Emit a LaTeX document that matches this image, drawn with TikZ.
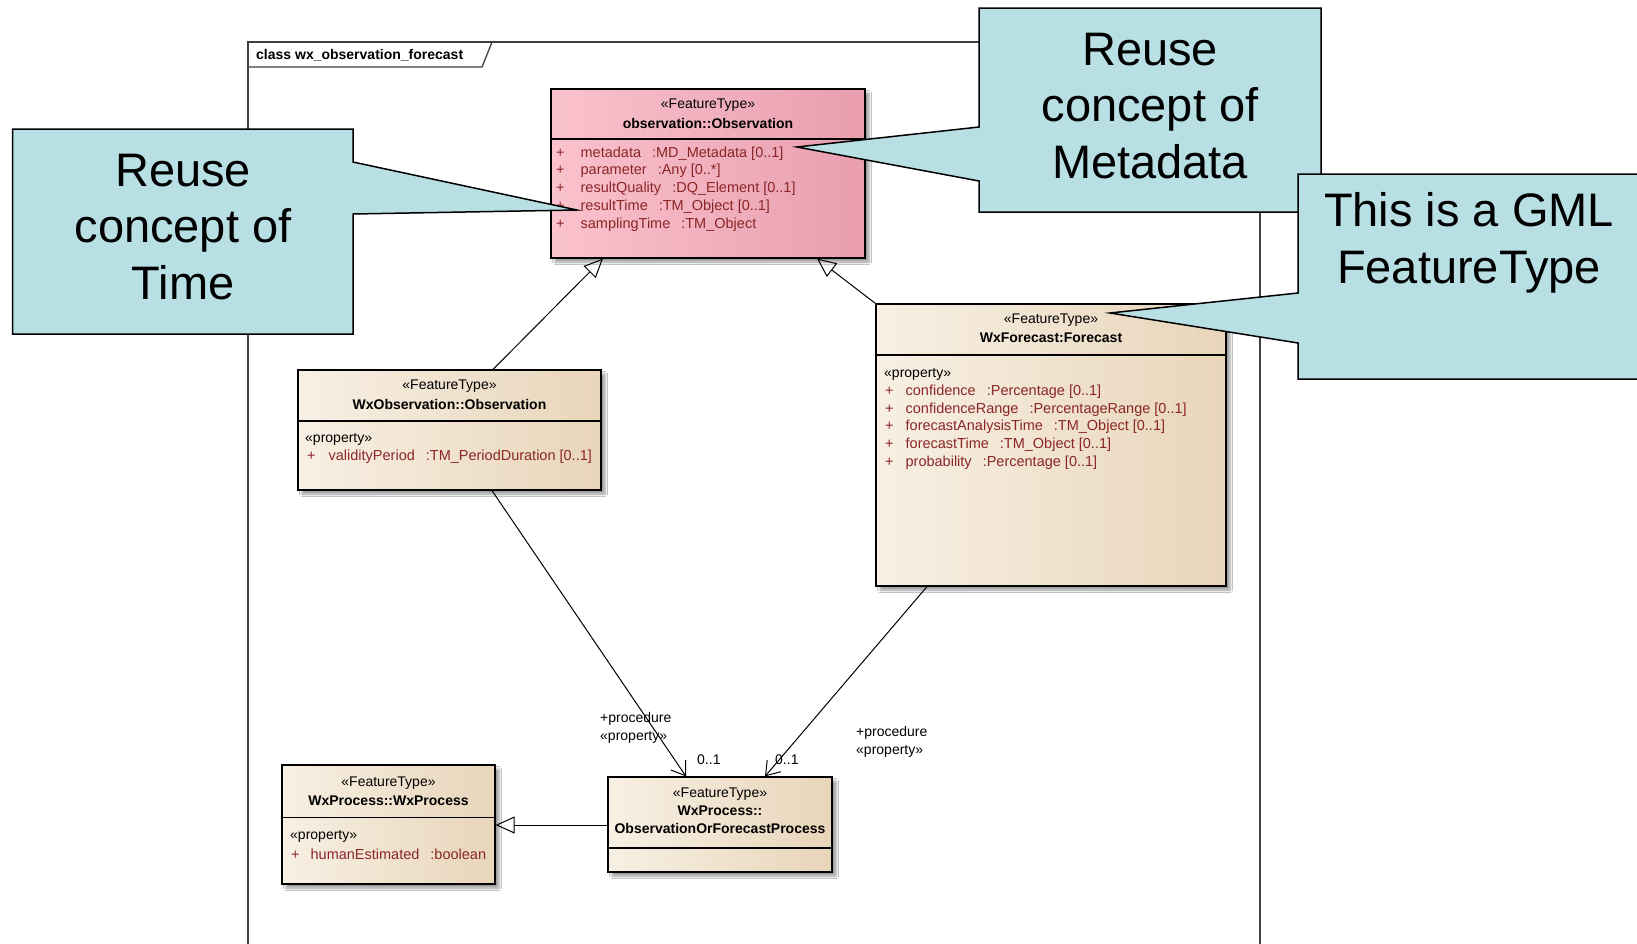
\documentclass[tikz,border=0pt]{standalone}
\usepackage{fontspec}
\setmainfont{Liberation Sans}
\usepackage{tikz}
\usetikzlibrary{arrows.meta}
\usetikzlibrary{shadows}
\usetikzlibrary{shadows.blur}
\definecolor{notebg}{HTML}{B8DFE3}
\definecolor{pinklight}{HTML}{FAC2CD}
\definecolor{pinkdark}{HTML}{E89EAE}
\definecolor{beigelight}{HTML}{F8F0E4}
\definecolor{beigedark}{HTML}{E8D5BA}
\definecolor{attrred}{HTML}{8B2626}
\newcommand{\typesep}{\hspace{11pt}}

\begin{document}
\begin{tikzpicture}[x=1pt, y=-1pt,
classbox/.style = {shape=rectangle, draw, line width=1.2pt, inner sep=0pt,
  left color=beigelight, right color=beigedark,
  blur shadow={shadow xshift=4pt, shadow yshift=-4pt, shadow blur radius=2.5pt}},
pinkbox/.style = {classbox, left color=pinklight, right color=pinkdark},
sepline/.style = {line width=1.2pt},
stereo/.style = {inner sep=0pt, font=\fontsize{14}{17}\selectfont},
cname/.style = {inner sep=0pt, align=center, font=\fontsize{14}{18}\selectfont\bfseries},
attr/.style = {anchor=west, inner sep=0pt, text=attrred, font=\fontsize{14.5}{17}\selectfont},
lbl/.style = {anchor=west, inner sep=0pt, font=\fontsize{14}{17}\selectfont},
frame/.style = {draw=black!75, line width=1.3pt},
notebox/.style = {draw, line width=1.5pt, fill=notebg, line join=miter},
notetext/.style = {inner sep=0pt, align=center, font=\fontsize{47}{56.5}\selectfont},
gen/.style = {-{Triangle[open, length=19pt, width=17pt]}, line width=1pt},
assoc/.style = {-{Straight Barb[length=13pt, width=18pt]}, line width=1pt}
]
\useasboundingbox[fill=white] (0,0) rectangle (1637,943);
\clip (0,0) rectangle (1637,943);

% diagram frame
\draw[frame] (248,960) -- (248,42) -- (1260,42) -- (1260,960);
\draw[frame] (248,67) -- (482,67) -- (492,42);
\node[lbl, font=\fontsize{14}{17}\selectfont\bfseries] (frametitle) at (256,55) {class wx\_observation\_forecast};

% observation::Observation
\node[pinkbox, minimum width=314, minimum height=169] (obs) at (708,173.5) {};
\node[stereo] (obsst) at (708,105.5) {«FeatureType»};
\node[cname] (obsname) at (708,123) {observation::Observation};
\draw[sepline] (obs.west |- 0,139) -- (obs.east |- 0,139);
\foreach \a [count=\i] in {metadata\typesep:MD\_Metadata [0..1], parameter\typesep:Any [0..*],
  resultQuality\typesep:DQ\_Element [0..1], resultTime\typesep:TM\_Object [0..1],
  samplingTime\typesep:TM\_Object}
  \node[attr] (obsattr\i) at (556,{153.5+17.7*(\i-1)}) {+\hspace{16pt}\a};

% WxObservation::Observation
\node[classbox, minimum width=303, minimum height=120] (wxobs) at (449.5,430) {};
\node[stereo] (wxobsst) at (449.5,386) {«FeatureType»};
\node[cname] (wxobsname) at (449.5,404) {WxObservation::Observation};
\draw[sepline] (wxobs.west |- 0,421) -- (wxobs.east |- 0,421);
\node[lbl] (wxobsprop) at (305,439.5) {«property»};
\node[attr] (wxobsattr) at (307,457) {+\hspace{13pt}validityPeriod\typesep:TM\_PeriodDuration [0..1]};

% WxForecast:Forecast
\node[classbox, minimum width=350, minimum height=282] (fcast) at (1051,445) {};
\node[stereo] (fcastst) at (1051,320.5) {«FeatureType»};
\node[cname] (fcastname) at (1051,338) {WxForecast:Forecast};
\draw[sepline] (fcast.west |- 0,355) -- (fcast.east |- 0,355);
\node[lbl] (fcastprop) at (884,374) {«property»};
\foreach \a [count=\i] in {confidence\typesep:Percentage [0..1],
  confidenceRange\typesep:PercentageRange [0..1],
  forecastAnalysisTime\typesep:TM\_Object [0..1], forecastTime\typesep:TM\_Object [0..1],
  probability\typesep:Percentage [0..1]}
  \node[attr] (fcastattr\i) at (885,{391.5+17.75*(\i-1)}) {+\hspace{12pt}\a};

% WxProcess::WxProcess
\node[classbox, minimum width=213, minimum height=119] (wxproc) at (388.5,824.5) {};
\node[stereo] (wxprocst) at (388.5,783) {«FeatureType»};
\node[cname] (wxprocname) at (388.5,801) {WxProcess::WxProcess};
\draw[sepline] (wxproc.west |- 0,817.5) -- (wxproc.east |- 0,817.5);
\node[lbl] (wxprocprop) at (290,836) {«property»};
\node[attr] (wxprocattr) at (291,854) {+\hspace{11pt}humanEstimated\typesep:boolean};

% WxProcess::ObservationOrForecastProcess
\node[classbox, minimum width=224, minimum height=95] (oofp) at (720,824.5) {};
\node[stereo] (oofpst) at (720,794.5) {«FeatureType»};
\node[cname] (oofpname) at (720,820) {WxProcess::\\ObservationOrForecastProcess};
\draw[sepline] (oofp.west |- 0,848) -- (oofp.east |- 0,848);

% connectors
\draw[gen] (wxobs.north -| 493,0) -- (obs.south -| 603,0);
\draw[gen] (fcast.north west) -- (obs.south -| 817,0);
\draw[gen] (oofp.west |- 0,825) -- (wxproc.east |- 0,825);
\draw[assoc] (wxobs.south -| 492,0) -- (oofp.north -| 686,0);
\draw[assoc] (fcast.south -| 927,0) -- (oofp.north -| 765,0);
\node[lbl] (procl) at (600,719) {+procedure};
\node[lbl] (propl) at (600,737) {«property»};
\node[lbl] (multl) at (697,760) {0..1};
\node[lbl] (procr) at (856,733) {+procedure};
\node[lbl] (propr) at (856,751) {«property»};
\node[lbl] (multr) at (775,760) {0..1};

% callouts
\draw[notebox] (12.5,129) -- (353,129) -- (353,162) -- (577,210) -- (353,214) -- (353,334) -- (12.5,334) -- cycle;
\node[notetext] (timenote) at (183,227) {Reuse\\concept of\\Time};
\draw[notebox] (979,8) -- (1321,8) -- (1321,212) -- (979,212) -- (979,181) -- (797,147) -- (979,127) -- cycle;
\node[notetext] (metanote) at (1150,106) {Reuse\\concept of\\Metadata};
\draw[notebox] (1298,174) -- (1645,174) -- (1645,379) -- (1298,379) -- (1298,343) -- (1110,313) -- (1298,293) -- cycle;
\node[notetext] (gmlnote) at (1469,243) {This is a GML\\FeatureType};
\end{tikzpicture}
\end{document}
